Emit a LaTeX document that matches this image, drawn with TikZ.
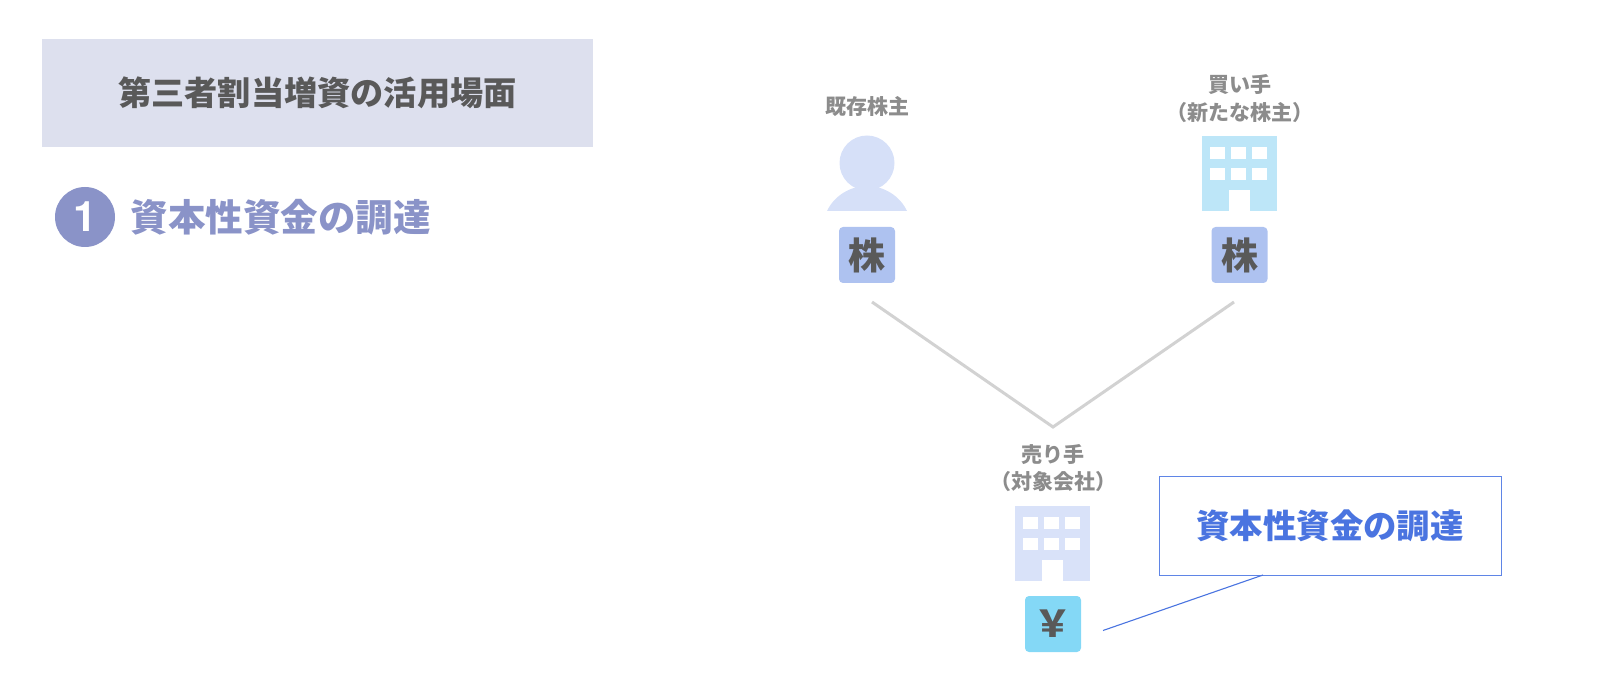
\documentclass[tikz,border=0pt]{standalone}
\usepackage{fontspec}
\setmainfont{Noto Sans CJK JP}
\newfontfamily\latinfont{TeX Gyre Heros}
\definecolor{titlebg}{HTML}{DDE0EE}
\definecolor{darktxt}{HTML}{595959}
\definecolor{accent}{HTML}{8A93C8}
\definecolor{person}{HTML}{D6E0F8}
\definecolor{bldgcyan}{HTML}{BDE6F8}
\definecolor{bldgblue}{HTML}{D9E2F9}
\definecolor{stock}{HTML}{AEC2F0}
\definecolor{yenbg}{HTML}{84D8F6}
\definecolor{greytxt}{HTML}{8C8C8C}
\definecolor{blueline}{HTML}{4A74E0}
\definecolor{boxline}{HTML}{5F85E6}
\definecolor{linkgrey}{HTML}{D2D2D2}
\newcommand{\pxfont}[1]{\fontsize{#1pt}{#1pt}\selectfont\bfseries}
\newcommand{\bldg}[3]{% x, y (top-left), colour
  \fill[#3] (#1,#2) rectangle ++(75,75);
  \foreach \wx in {8,29,50}\foreach \wy in {11,32}
    \fill[white] ({#1+\wx},{#2+\wy}) rectangle ++(15,12);
  \fill[white] ({#1+27},{#2+54}) rectangle ++(21,21);
}
\tikzset{
  x=1pt,y=-1pt,
  every node/.style={inner sep=0pt,outer sep=0pt},
  lbl/.style={text=greytxt,font=\pxfont{21},anchor=center},
  tile/.style={minimum width=56pt,minimum height=56pt,rounded corners=4pt,text=darktxt,font=\pxfont{37},anchor=center},
  link/.style={draw=linkgrey,line width=3pt,line join=miter},
}
\begin{document}
\begin{tikzpicture}
\useasboundingbox (0,0) rectangle (1600,692);
% title
\node[fill=titlebg,minimum width=551pt,minimum height=108pt,text=darktxt,font=\pxfont{33.2}] (title) at (317.5,93) {第三者割当増資の活用場面};
\node[circle,fill=accent,minimum size=60pt,text=white,font=\latinfont\pxfont{42}] (num) at (85,217) {1};
\node[text=accent,font=\pxfont{37.5}] (heading) at (280.5,217) {資本性資金の調達};
% existing shareholder
\node[lbl] (holder) at (867,107) {既存株主};
\fill[person] (827,211) .. controls (834,196) and (850,186) .. (867,186) .. controls (884,186) and (900,196) .. (907,211) -- cycle;
\fill[person] (867,163) circle (27.5);
\node[tile,fill=stock] (stocka) at (867,255) {株};
% buyer
\node[lbl] (buyer) at (1240,85) {買い手};
\node[lbl] (buyerb) at (1240,113) {（新たな株主）};
\bldg{1202}{136}{bldgcyan}
\node[tile,fill=stock] (stockb) at (1239.5,255) {株};
% links
\coordinate (la) at (872,302);
\coordinate (lm) at (1053,427);
\coordinate (lb) at (1234,302);
\draw[link] (la) -- (lm) -- (lb);
% seller
\node[lbl] (seller) at (1053,455) {売り手};
\node[lbl] (sellerb) at (1053,482) {（対象会社）};
\bldg{1015}{506}{bldgblue}
\node[tile,fill=yenbg] (yen) at (1053,624) {￥};
% callout
\node[draw=boxline,line width=1pt,fill=white,minimum width=342pt,minimum height=99pt,text=blueline,font=\pxfont{33.4}] (callout) at (1330,525.5) {資本性資金の調達};
\coordinate (cfoot) at (1263,575);
\coordinate (cend) at (1103,630.5);
\draw[blueline,line width=1.1pt] (cfoot) -- (cend);
\end{tikzpicture}
\end{document}
